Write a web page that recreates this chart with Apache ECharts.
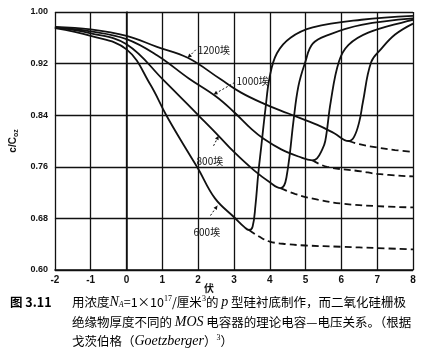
<!DOCTYPE html>
<html><head><meta charset="utf-8">
<script src="https://cdn.jsdelivr.net/npm/echarts@6/dist/echarts.min.js"></script>
<style>html,body{margin:0;padding:0;background:#fff}#c{width:430px;height:353px}</style>
</head><body><div id="c"></div>
<script>
// ---- data (V in volts, c/Cox) ----
const xTickValues = [-2, -1, 0, 1, 2, 3, 4, 5, 6, 7, 8];
const yTickLabels = ['0.60', '0.68', '0.76', '0.84', '0.92', '1.00'];
const thicknessLabels = ['600埃', '800埃', '1000埃', '1200埃'];

const solid600 = [[-2,0.975],[-1,0.963],[0,0.942],[0.66,0.888],[1.11,0.84],[1.66,0.788],[2,0.757],[2.47,0.711],[3.02,0.681],[3.3,0.666],[3.42,0.662],[3.52,0.667],[3.6,0.70],[3.68,0.75],[3.76,0.79],[3.88,0.85],[4.0,0.90],[4.2,0.936],[4.58,0.96],[5.2,0.976],[6.56,0.988],[8,0.994]];
const dash600 = [[3.42,0.662],[3.7,0.652],[4,0.644],[4.5,0.64],[5,0.638],[6,0.636],[7,0.634],[8,0.632]];

const solid800 = [[-2,0.976],[-1,0.967],[0,0.95],[1.04,0.894],[2.02,0.839],[2.57,0.808],[3.0,0.783],[3.57,0.754],[4.0,0.736],[4.3,0.727],[4.4,0.731],[4.47,0.745],[4.56,0.78],[4.66,0.83],[4.8,0.885],[4.99,0.922],[5.2,0.951],[5.66,0.965],[6.56,0.98],[8,0.99]];
const dash800 = [[4.3,0.727],[4.7,0.718],[5.34,0.709],[6,0.703],[7,0.699],[8,0.697]];

const solid1000 = [[-2,0.976],[-1,0.97],[0,0.958],[0.85,0.933],[1.74,0.897],[2.5,0.869],[3.0,0.845],[3.5,0.818],[3.84,0.803],[4.32,0.787],[4.8,0.776],[5.19,0.77],[5.32,0.773],[5.45,0.785],[5.55,0.80],[5.7,0.86],[5.93,0.923],[6.2,0.949],[6.75,0.968],[7.84,0.986],[8,0.988]];
const dash1000 = [[5.19,0.77],[5.6,0.76],[6.55,0.753],[7,0.749],[8,0.745]];

const solid1200 = [[-2,0.977],[-1,0.973],[0,0.963],[0.85,0.946],[1.71,0.929],[2.62,0.896],[3.2,0.875],[3.83,0.858],[4.5,0.843],[5.33,0.825],[5.8,0.812],[6.2,0.80],[6.35,0.806],[6.5,0.83],[6.6,0.86],[6.83,0.922],[7.1,0.942],[7.5,0.965],[8,0.982]];
const dash1200 = [[6.2,0.80],[6.5,0.795],[7,0.79],[7.5,0.786],[8,0.783]];

// annotation tips on curves (data coords)
const labelTips = [[2.54,0.70],[2.57,0.808],[2.43,0.872],[1.71,0.929]];

const chart = echarts.init(document.getElementById('c'), null, {renderer: 'canvas'});
const ink = '#111';
function solid(data){return {type:'line',data,showSymbol:false,smooth:0.4,lineStyle:{color:ink,width:1.8},silent:true,animation:false};}
function dashed(data){return {type:'line',data,showSymbol:false,smooth:0.4,lineStyle:{color:ink,width:1.8,type:[7,4]},silent:true,animation:false};}

chart.setOption({
  backgroundColor:'#fff',
  animation:false,
  grid:{left:46,right:17,top:12,bottom:83},
  xAxis:{type:'value',min:-2,max:8,interval:1,
    axisLine:{show:true,lineStyle:{color:ink,width:1.5}},
    axisTick:{show:false},
    splitLine:{show:true,lineStyle:{color:ink,width:1.3}},
    axisLabel:{color:ink,fontFamily:'Liberation Sans',fontWeight:'bold',fontSize:10,margin:5,
      formatter:v=>xTickValues.includes(v)?String(v):''}
  },
  yAxis:{type:'value',min:0.6,max:1.0,interval:0.08,
    axisLine:{show:true,lineStyle:{color:ink,width:1.5}},
    axisTick:{show:false},
    splitLine:{show:true,lineStyle:{color:ink,width:1.3}},
    axisLabel:{color:ink,fontFamily:'Liberation Sans',fontWeight:'bold',fontSize:9,margin:7,
      formatter:v=>{const i=Math.round((v-0.6)/0.08);return yTickLabels[i]||'';}},
    name:'{a|c/C}{s|oz}',nameLocation:'middle',nameGap:31,nameRotate:90,
    nameTextStyle:{rich:{a:{color:ink,fontFamily:'Liberation Sans',fontWeight:'bold',fontSize:10},s:{color:ink,fontFamily:'Liberation Sans',fontWeight:'bold',fontSize:7,padding:[6,0,0,0]}}}
  },
  series:[solid(solid600),dashed(dash600),solid(solid800),dashed(dash800),solid(solid1000),dashed(dash1000),solid(solid1200),dashed(dash1200)]
});

// annotations
const g=[];
const offs=[{tail:[-7,10],lx:-17,ly:17,align:'left'},{tail:[-5,10],lx:-17,ly:15,align:'left'},{tail:[21,-12],lx:2,ly:-1,align:'left'},{tail:[8,-8],lx:2,ly:0,align:'left'}];
labelTips.forEach((t,i)=>{
  const p=chart.convertToPixel({gridIndex:0},t);
  const o=offs[i];
  const tx=p[0]+o.tail[0], ty=p[1]+o.tail[1];
  g.push({type:'line',shape:{x1:tx,y1:ty,x2:p[0],y2:p[1]},style:{stroke:ink,lineWidth:1,lineDash:[2,2]},silent:true});
  const dx=p[0]-tx, dy=p[1]-ty, L=Math.hypot(dx,dy), ux=dx/L, uy=dy/L;
  const bx=p[0]-ux*4, by=p[1]-uy*4;
  g.push({type:'polygon',shape:{points:[[p[0],p[1]],[bx-uy*2,by+ux*2],[bx+uy*2,by-ux*2]]},style:{fill:ink},silent:true});
  g.push({type:'text',x:tx+o.lx,y:ty+o.ly,style:{text:thicknessLabels[i],fill:ink,font:'10px "Noto Sans CJK SC"',textAlign:o.align,textVerticalAlign:'middle'},silent:true});
});

// x-axis unit
g.push({type:'text',x:209,y:288,style:{text:'伏',fill:ink,font:'bold 10px "Noto Sans CJK SC"',textAlign:'center',textVerticalAlign:'middle'},silent:true});

// caption
const capFont='"Noto Sans CJK SC"';
const rich={
  n:{fontFamily:capFont,fontSize:12.5,color:ink},
  b:{fontFamily:capFont,fontSize:12.5,fontWeight:'bold',color:ink},
  i:{fontFamily:'Liberation Serif',fontStyle:'italic',fontSize:14,color:ink},
  sub:{fontFamily:'Liberation Serif',fontStyle:'italic',fontSize:8,color:ink,padding:[6,0,0,0]},
  sup:{fontFamily:'Liberation Serif',fontSize:8,color:ink,padding:[0,0,6,0]}
};
g.push({type:'text',x:10,y:302,style:{text:'{b|图 3.11}',rich,textVerticalAlign:'middle'},silent:true});
g.push({type:'text',x:72,y:302,style:{text:'{n|用浓度}{i|N}{sub|A}{n|=1×10}{sup|17}{n|/厘米}{sup|3}{n|的 }{i|p}{n| 型硅衬底制作，而二氧化硅栅极}',rich,textVerticalAlign:'middle'},silent:true});
g.push({type:'text',x:72,y:322,style:{text:'{n|绝缘物厚度不同的 }{i|MOS}{n| 电容器的理论电容—电压关系。（根据}',rich,textVerticalAlign:'middle'},silent:true});
g.push({type:'text',x:72,y:341,style:{text:'{n|戈茨伯格（}{i|Goetzberger}{n|）}{sup|3}{n|）}',rich,textVerticalAlign:'middle'},silent:true});
chart.setOption({graphic:{elements:g}});
</script></body></html>
